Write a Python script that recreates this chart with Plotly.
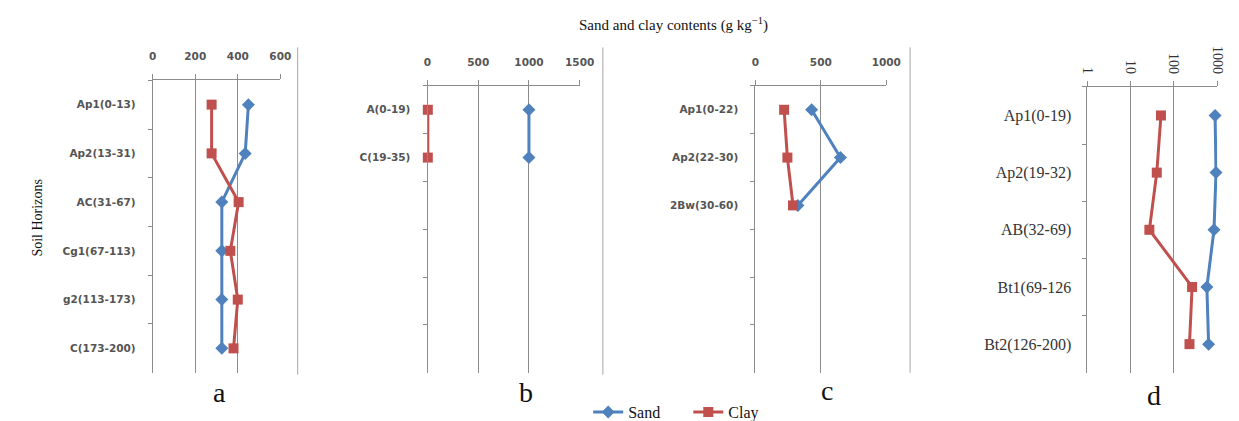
import plotly.graph_objects as go

W, H = 1239, 421

# ---------------- data ----------------
a_horizons = ["Ap1(0-13)", "Ap2(13-31)", "AC(31-67)", "Cg1(67-113)", "g2(113-173)", "C(173-200)"]
a_sand = [450, 435, 325, 325, 325, 325]
a_clay = [277, 277, 404, 365, 400, 380]

b_horizons = ["A(0-19)", "C(19-35)"]
b_sand = [1000, 1000]
b_clay = [3, 3]

c_horizons = ["Ap1(0-22)", "Ap2(22-30)", "2Bw(30-60)"]
c_sand = [430, 650, 325]
c_clay = [220, 245, 288]

d_horizons = ["Ap1(0-19)", "Ap2(19-32)", "AB(32-69)", "Bt1(69-126", "Bt2(126-200)"]
d_sand = [890, 935, 840, 575, 630]
d_clay = [50, 40, 27, 262, 228]

a_ticks = [0, 200, 400, 600]
b_ticks = [0, 500, 1000, 1500]
c_ticks = [0, 500, 1000]
d_ticks = [1, 10, 100, 1000]

SAND = "#4F81BD"
CLAY = "#C0504D"
GRID = "#8C8C8C"


def xd(l, r):
    return [l / W, r / W]


def yd(t, b):
    return [1 - b / H, 1 - t / H]


panels = [
    # horizons, sand, clay, slots, x-domain, y-domain, x-range, ticks, log
    (a_horizons, a_sand, a_clay, 6, xd(139.3, 269.3), yd(73.3, 370), [0, 600], a_ticks, False),
    (b_horizons, b_sand, b_clay, 6, xd(419.3, 574.3), yd(79, 370), [0, 1500], b_ticks, False),
    (c_horizons, c_sand, c_clay, 6, xd(753.3, 886.7), yd(79, 370), [0, 1000], c_ticks, False),
    (d_horizons, d_sand, d_clay, 5, xd(1091.7, 1224), yd(80, 370), [0, 3], d_ticks, True),
]

fig = go.Figure()
layout = {}

sans_font = dict(family="DejaVu Sans", size=10.5, color="#555555", weight="bold")
serif_tick = dict(family="Liberation Serif", size=16, color="#333333")

for i, (hz, sand, clay, slots, xdom, ydom, xr, ticks, islog) in enumerate(panels):
    n = i + 1
    xa = "x" if n == 1 else f"x{n}"
    ya = "y" if n == 1 else f"y{n}"
    xkey = "xaxis" if n == 1 else f"xaxis{n}"
    ykey = "yaxis" if n == 1 else f"yaxis{n}"
    cats = list(hz) + [" " * (k + 1) for k in range(slots - len(hz))]

    fig.add_trace(go.Scatter(
        x=sand, y=hz, xaxis=xa, yaxis=ya, mode="lines+markers", name="Sand",
        line=dict(color=SAND, width=3),
        marker=dict(symbol="diamond", size=10, color=SAND),
        showlegend=(n == 1), legend="legend", cliponaxis=False))
    fig.add_trace(go.Scatter(
        x=clay, y=hz, xaxis=xa, yaxis=ya, mode="lines+markers", name="Clay",
        line=dict(color=CLAY, width=3),
        marker=dict(symbol="square", size=10, color=CLAY),
        showlegend=(n == 1), legend="legend2", cliponaxis=False))

    xaxis = dict(
        domain=xdom, anchor=ya, side="top", range=xr,
        showline=True, linecolor=GRID, linewidth=1,
        showgrid=True, gridcolor=GRID, gridwidth=1, zeroline=False,
        ticks="outside", ticklen=5, tickcolor=GRID,
        tickvals=ticks,
    )
    if islog:
        xaxis.update(type="log", tickangle=90, ticklabelstandoff=2,
                     tickfont=dict(family="Liberation Serif", size=14, color="#333333"))
    else:
        xaxis.update(ticklabelstandoff=10, tickfont=sans_font)

    yaxis = dict(
        domain=ydom, anchor=xa, type="category",
        categoryorder="array", categoryarray=cats,
        range=[slots - 0.5, -0.5],
        showline=True, linecolor=GRID, linewidth=1,
        showgrid=False, zeroline=False,
        tickson="boundaries", ticks="outside", ticklen=4, tickcolor=GRID,
        ticklabelstandoff=12 if islog else 14,
        tickfont=serif_tick if islog else sans_font,
    )
    layout[xkey] = xaxis
    layout[ykey] = yaxis

fig.update_layout(**layout)

# separators between panels (chart-area borders)
for xs, y0, y1 in [(287, 40, 372), (598, 40, 372), (911, 40, 370)]:
    fig.add_shape(type="line", xref="paper", yref="paper",
                  x0=xs / W, x1=xs / W, y0=1 - y1 / H, y1=1 - y0 / H,
                  line=dict(color="#A6A6A6", width=1))

ann = []
ann.append(dict(text="Sand and clay contents (g kg<sup>\u22121</sup>)", x=670 / W, y=1 - 17 / H,
                xref="paper", yref="paper", showarrow=False, xanchor="center", yanchor="middle",
                font=dict(family="Liberation Serif", size=15, color="#111111")))
ann.append(dict(text="Soil Horizons", x=22 / W, y=1 - 213 / H, textangle=-90,
                xref="paper", yref="paper", showarrow=False, xanchor="center", yanchor="middle",
                font=dict(family="Liberation Serif", size=14, color="#111111")))
for lab, lx, ly in [("a", 207, 390), ("b", 520, 390), ("c", 826, 388), ("d", 1160, 393)]:
    ann.append(dict(text=lab, x=lx / W, y=1 - ly / H, xref="paper", yref="paper",
                    showarrow=False, xanchor="center", yanchor="middle",
                    font=dict(family="Liberation Serif", size=28, color="#111111")))

fig.update_layout(
    width=W, height=H,
    margin=dict(l=0, r=0, t=0, b=0),
    paper_bgcolor="white", plot_bgcolor="white",
    annotations=ann,
    legend=dict(x=583 / W, y=1 - 410 / H, xanchor="left", yanchor="middle",
                orientation="h", bgcolor="rgba(0,0,0,0)",
                font=dict(family="Liberation Serif", size=16, color="#111111")),
    legend2=dict(x=685 / W, y=1 - 410 / H, xanchor="left", yanchor="middle",
                 orientation="h", bgcolor="rgba(0,0,0,0)",
                 font=dict(family="Liberation Serif", size=16, color="#111111")),
)

fig.write_html("out.html")
